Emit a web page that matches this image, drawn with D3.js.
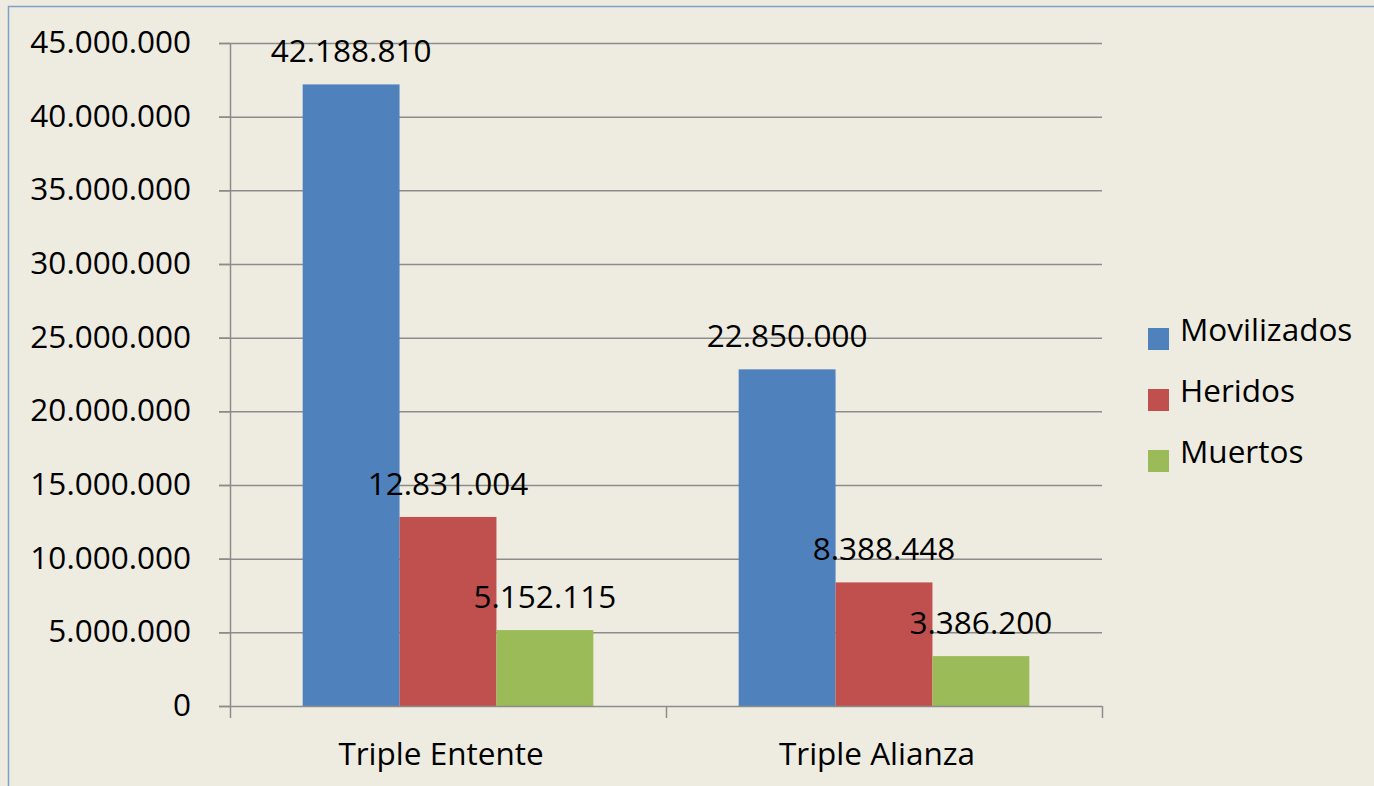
<!DOCTYPE html>
<html><head><meta charset="utf-8">
<script src="https://cdn.jsdelivr.net/npm/d3@7"></script>
<style>html,body{margin:0;padding:0;background:#EEECE1;overflow:hidden}svg{display:block}</style>
</head><body>
<script>
const categories = ["Triple Entente", "Triple Alianza"];
const seriesNames = ["Movilizados", "Heridos", "Muertos"];
const movilizados = [42188810, 22850000];
const heridos = [12831004, 8388448];
const muertos = [5152115, 3386200];
const seriesValues = [movilizados, heridos, muertos];
const colors = ["#4F81BD", "#C0504D", "#9BBB59"];
const yTicks = [0, 5000000, 10000000, 15000000, 20000000, 25000000, 30000000, 35000000, 40000000, 45000000];

const W = 1374, H = 786;
const font = "'Open Sans', sans-serif";
const fs = 31.5;
const fmt = v => v === 0 ? "0" : d3.format(",")(v).replace(/,/g, ".");

const svg = d3.select("body").append("svg").attr("width", W).attr("height", H);
svg.append("rect").attr("x", 0).attr("y", 0).attr("width", W).attr("height", H).attr("fill", "#EEECE1");
svg.append("rect").attr("x", 8.5).attr("y", 6.5).attr("width", W + 20).attr("height", H + 20)
  .attr("fill", "#EEECE1").attr("stroke", "#7EA1CC").attr("stroke-width", 1.5);

const pL = 230, pR = 1102, pT = 43, pB = 706;
const x0 = d3.scaleBand().domain(categories).range([pL, pR]).paddingInner(0).paddingOuter(0);
const x1 = d3.scaleBand().domain(seriesNames).range([0, x0.bandwidth()]).paddingInner(0).paddingOuter(0.75);
const y = d3.scaleLinear().domain([0, 45000000]).range([pB, pT]);

// gridlines
svg.append("g").selectAll("line").data(yTicks.filter(d => d > 0)).join("line")
  .attr("x1", pL - 11).attr("x2", pR).attr("y1", d => y(d) + 0.5).attr("y2", d => y(d) + 0.5)
  .attr("stroke", "#8C8C8C").attr("stroke-width", 1.5);

// bars
const gBars = svg.append("g");
categories.forEach((c, ci) => {
  seriesNames.forEach((s, si) => {
    const v = seriesValues[si][ci];
    gBars.append("rect").attr("x", x0(c) + x1(s)).attr("width", x1.bandwidth())
      .attr("y", y(v)).attr("height", y(0) - y(v)).attr("fill", colors[si]);
  });
});

// y axis
const yAxis = svg.append("g").attr("transform", `translate(${pL},0)`)
  .call(d3.axisLeft(y).tickValues(yTicks).tickFormat(fmt).tickSize(11).tickPadding(28));
yAxis.select(".domain").attr("stroke", "#8C8C8C").attr("stroke-width", 1.5).attr("d", `M0.5,${pT}V${pB}`);
yAxis.selectAll(".tick line").attr("stroke", "#8C8C8C").attr("stroke-width", 1.5);
yAxis.selectAll(".tick text").attr("font-family", font).attr("font-size", fs).attr("fill", "#000").attr("dy", "0.3em");

// x axis
const xAxisG = svg.append("g");
xAxisG.append("line").attr("x1", pL - 11).attr("x2", pR).attr("y1", pB + 0.5).attr("y2", pB + 0.5)
  .attr("stroke", "#8C8C8C").attr("stroke-width", 1.5);
const xTickPos = [pL].concat(categories.map(c => x0(c) + x0.bandwidth()));
xAxisG.selectAll("line.xt").data(xTickPos).join("line").attr("class", "xt")
  .attr("x1", d => d + 0.5).attr("x2", d => d + 0.5).attr("y1", pB).attr("y2", pB + 12)
  .attr("stroke", "#8C8C8C").attr("stroke-width", 1.5);
xAxisG.selectAll("text").data(categories).join("text")
  .attr("x", d => x0(d) + x0.bandwidth() / 2 - 7).attr("y", 765)
  .attr("text-anchor", "middle").attr("font-family", font).attr("font-size", fs).attr("fill", "#000").text(d => d);

// data labels
categories.forEach((c, ci) => {
  seriesNames.forEach((s, si) => {
    const v = seriesValues[si][ci];
    svg.append("text").attr("x", x0(c) + x1(s) + x1.bandwidth() / 2).attr("y", y(v) - 22)
      .attr("text-anchor", "middle").attr("font-family", font).attr("font-size", fs).attr("fill", "#000").text(fmt(v));
  });
});

// legend
const leg = svg.append("g");
seriesNames.forEach((s, i) => {
  const cy = 339 + i * 61;
  leg.append("rect").attr("x", 1148).attr("y", cy - 11).attr("width", 21).attr("height", 22).attr("fill", colors[i]);
  leg.append("text").attr("x", 1180).attr("y", cy + 2).attr("font-family", font).attr("font-size", fs)
    .attr("fill", "#000").text(s);
});
</script>
</body></html>
